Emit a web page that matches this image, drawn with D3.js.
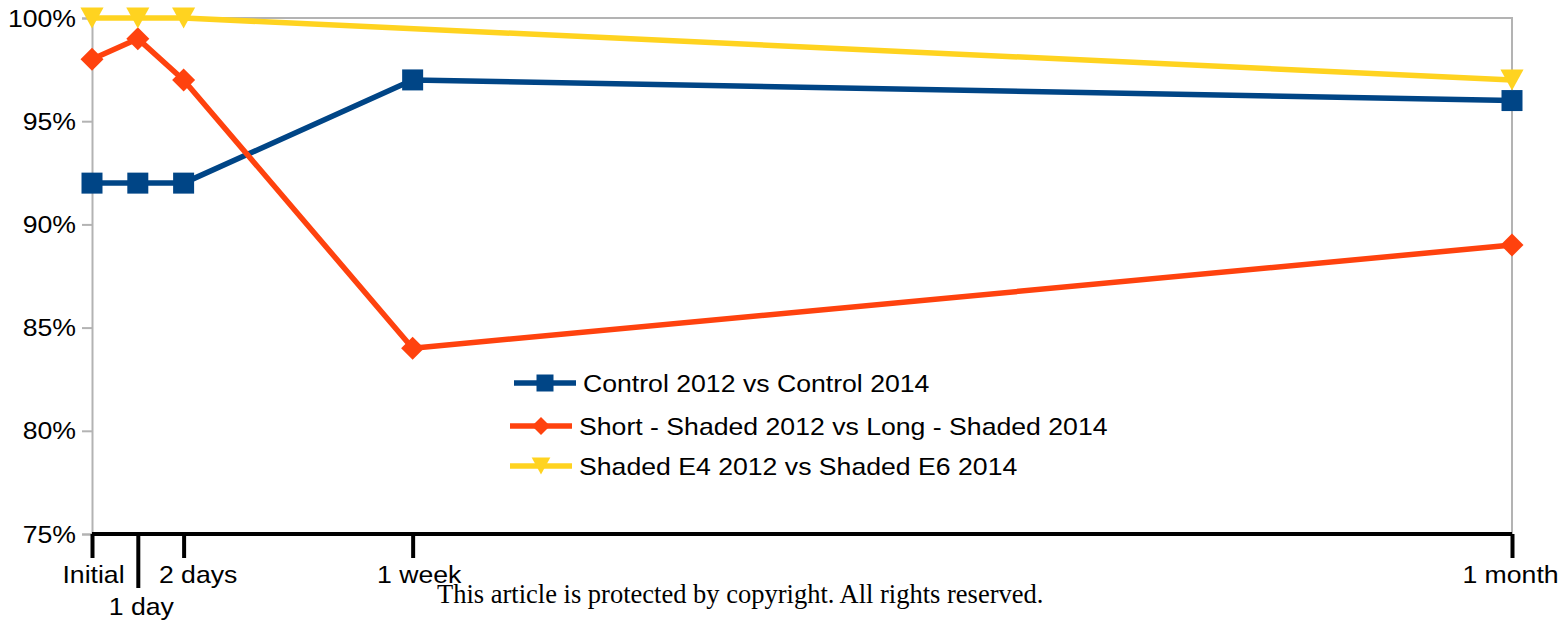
<!DOCTYPE html>
<html>
<head>
<meta charset="utf-8">
<script src="https://cdn.jsdelivr.net/npm/d3@7"></script>
<style>
  html, body { margin: 0; padding: 0; background: #fff; }
  svg { display: block; }
  text { font-family: "Liberation Sans", Arial, sans-serif; fill: #000; }
  text.notice { font-family: "Liberation Serif", "Times New Roman", serif; }
</style>
</head>
<body>
<svg id="chart" width="1563" height="622"></svg>
<script>
// Time points (days after start) and their labels
const timeLabels = ["Initial", "1 day", "2 days", "1 week", "1 month"];
const timeDays = [0, 1, 2, 7, 31];

// Agreement between years, percent
const controlValues = [92, 92, 92, 97, 96];
const shortLongValues = [98, 99, 97, 84, 89];
const shadedValues = [100, 100, 100, null, 97];

const seriesNames = [
  "Control 2012 vs Control 2014",
  "Short - Shaded 2012 vs Long - Shaded 2014",
  "Shaded E4 2012 vs Shaded E6 2014"
];

const yTicks = [75, 80, 85, 90, 95, 100];

const colors = ["#004586", "#ff420e", "#ffd320"];
const symbols = ["square", "diamond", "triangleDown"];

const svg = d3.select("#chart");
const plotLeft = 92, plotRight = 1512, plotTop = 18, plotBottom = 534;
const textStretch = 1.11;

const x = d3.scaleLinear().domain([0, 31]).range([plotLeft, plotRight]);
const y = d3.scaleLinear().domain([75, 100]).range([plotBottom, plotTop]);

// plot frame (top and right edges)
svg.append("path")
  .attr("d", `M${plotLeft},${plotTop}H${plotRight}V${plotBottom}`)
  .attr("fill", "none").attr("stroke", "#b3b3b3").attr("stroke-width", 2);

// y axis
const yAxis = svg.append("g").attr("transform", `translate(${plotLeft},0)`)
  .call(d3.axisLeft(y).tickValues(yTicks).tickSize(10).tickFormat(d => d + "%"));
yAxis.select(".domain").attr("stroke", "#b3b3b3").attr("stroke-width", 2);
yAxis.selectAll(".tick line").attr("stroke", "#b3b3b3").attr("stroke-width", 2);
yAxis.selectAll(".tick text").remove();
yAxis.selectAll(".tick").append("text")
  .attr("text-anchor", "end")
  .attr("font-size", 24)
  .attr("transform", `translate(-16,8) scale(${textStretch},1)`)
  .text(d => d + "%");

// x axis: thick black baseline with ticks
const xAxis = svg.append("g").attr("transform", `translate(0,${plotBottom})`)
  .call(d3.axisBottom(x).tickValues(timeDays).tickSize(24).tickFormat(""));
xAxis.select(".domain").attr("stroke", "#000").attr("stroke-width", 4)
  .attr("d", `M${plotLeft},0H${plotRight}`);
xAxis.selectAll(".tick line").attr("stroke", "#000").attr("stroke-width", 4)
  .attr("y2", (d, i) => i === 1 ? 54 : 24);
xAxis.selectAll(".tick text").remove();
const labelShift = [1, 3, 14, 6, -2];
xAxis.selectAll(".tick").append("text")
  .attr("text-anchor", "middle")
  .attr("font-size", 24)
  .attr("transform", (d, i) => `translate(${labelShift[i]},${i === 1 ? 81 : 49}) scale(${textStretch},1)`)
  .text((d, i) => timeLabels[i]);

// marker shapes
function markerPath(kind, s) {
  const h = s / 2;
  if (kind === "square") return `M${-h},${-h}H${h}V${h}H${-h}Z`;
  if (kind === "diamond") return `M0,${-h}L${h},0L0,${h}L${-h},0Z`;
  return `M${-h * 1.1},${-h}H${h * 1.1}L0,${h}Z`;
}

const seriesValues = [controlValues, shortLongValues, shadedValues];
const line = d3.line().x(d => x(d.day)).y(d => y(d.value));

seriesValues.forEach((vals, si) => {
  const pts = vals.map((v, i) => ({ day: timeDays[i], value: v }))
    .filter(p => p.value !== null);
  const g = svg.append("g");
  g.append("path").datum(pts)
    .attr("d", line)
    .attr("fill", "none")
    .attr("stroke", colors[si])
    .attr("stroke-width", 5.5)
    .attr("stroke-linejoin", "round");
  g.selectAll("path.m").data(pts).join("path")
    .attr("class", "m")
    .attr("transform", d => `translate(${x(d.day)},${y(d.value)})`)
    .attr("d", markerPath(symbols[si], symbols[si] === "diamond" ? 23 : 21))
    .attr("fill", colors[si]);
});

// legend
const legendRows = [
  { x: 514, y: 383 },
  { x: 510, y: 426 },
  { x: 510, y: 466 }
];
seriesNames.forEach((name, i) => {
  const r = legendRows[i];
  const g = svg.append("g").attr("transform", `translate(${r.x},${r.y})`);
  g.append("line").attr("x1", 0).attr("x2", 62)
    .attr("stroke", colors[i]).attr("stroke-width", 5.5);
  g.append("path").attr("transform", "translate(31,0)")
    .attr("d", markerPath(symbols[i], symbols[i] === "diamond" ? 18 : 17))
    .attr("fill", colors[i]);
  g.append("text")
    .attr("font-size", 24)
    .attr("transform", `translate(69,9) scale(${textStretch},1)`)
    .text(name);
});

// notice at the bottom
svg.append("text")
  .attr("class", "notice")
  .attr("x", 437).attr("y", 603)
  .attr("font-size", 26.5)
  .text("This article is protected by copyright. All rights reserved.");
</script>
</body>
</html>
